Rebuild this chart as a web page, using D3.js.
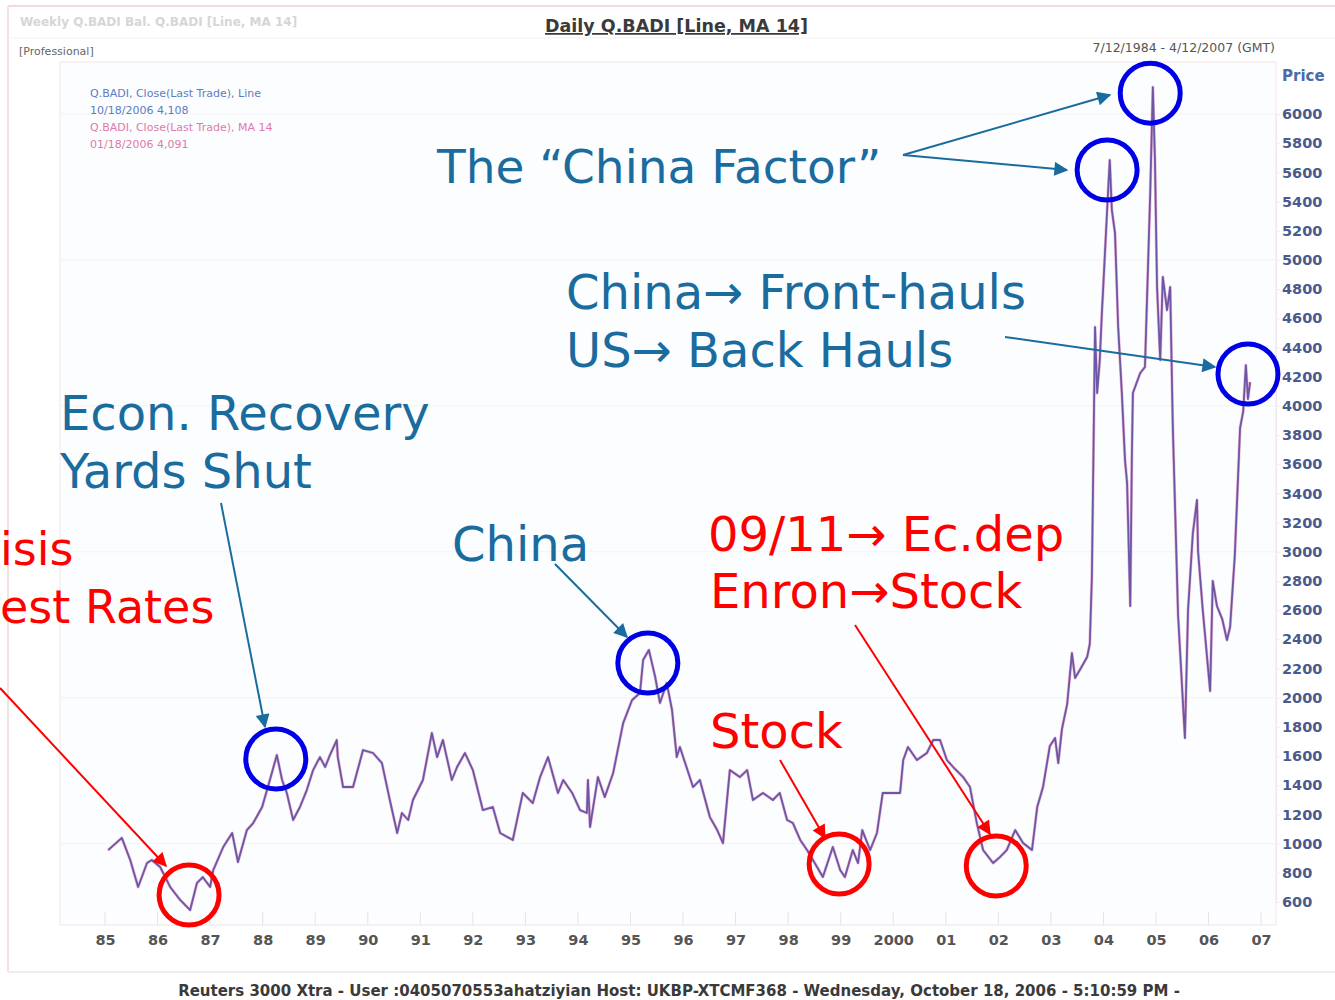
<!DOCTYPE html>
<html>
<head>
<meta charset="utf-8">
<script src="https://cdn.jsdelivr.net/npm/d3@7"></script>
<style>
  html, body { margin: 0; padding: 0; background: #ffffff; }
  svg { display: block; font-family: "DejaVu Sans", Verdana, sans-serif; }
</style>
</head>
<body>
<svg id="chart" width="1335" height="1000"></svg>
<script>
// ---------------- DATA ----------------
const yearLabels = ["85","86","87","88","89","90","91","92","93","94","95","96","97","98","99","2000","01","02","03","04","05","06","07"];
const yearTicks = d3.range(1985, 2008);
const priceTicks = d3.range(600, 6001, 200);

const years = [
 1985.06,1985.32,1985.48,1985.63,1985.80,1985.89,1986.05,1986.24,1986.43,1986.62,
 1986.75,1986.86,1987.00,1987.06,1987.25,1987.42,1987.53,1987.70,1987.82,1987.99,
 1988.10,1988.27,1988.37,1988.46,1988.58,1988.71,1988.84,1988.96,1989.09,1989.19,
 1989.28,1989.41,1989.43,1989.53,1989.72,1989.91,1990.10,1990.27,1990.42,1990.56,
 1990.65,1990.77,1990.86,1991.05,1991.22,1991.32,1991.43,1991.60,1991.70,1991.85,
 1992.00,1992.19,1992.38,1992.52,1992.76,1992.95,1993.14,1993.28,1993.43,1993.62,
 1993.72,1993.89,1994.04,1994.17,1994.19,1994.23,1994.38,1994.51,1994.67,1994.86,
 1995.03,1995.18,1995.24,1995.35,1995.47,1995.56,1995.69,1995.79,1995.88,1995.94,
 1996.19,1996.32,1996.51,1996.65,1996.76,1996.89,1997.08,1997.22,1997.33,1997.52,
 1997.71,1997.84,1997.98,1998.09,1998.23,1998.36,1998.55,1998.66,1998.85,1998.99,
 1999.08,1999.23,1999.33,1999.41,1999.56,1999.69,1999.80,1999.94,2000.13,2000.19,
 2000.28,2000.45,2000.64,2000.76,2000.89,2001.02,2001.14,2001.33,2001.46,2001.59,
 2001.71,2001.90,2002.03,2002.16,2002.32,2002.47,2002.64,2002.74,2002.85,2002.98,
 2003.08,2003.14,2003.21,2003.31,2003.40,2003.46,2003.55,2003.69,2003.74,2003.78,
 2003.84,2003.88,2003.93,2003.97,2003.99,2004.07,2004.12,2004.16,2004.22,2004.28,
 2004.35,2004.41,2004.45,2004.51,2004.54,2004.56,2004.70,2004.79,2004.89,2004.94,
 2004.98,2005.02,2005.08,2005.13,2005.21,2005.27,2005.32,2005.42,2005.55,2005.61,
 2005.70,2005.78,2005.80,2005.89,2006.03,2006.08,2006.16,2006.26,2006.35,2006.41,
 2006.50,2006.60,2006.66,2006.71,2006.75,2006.79
];
const closeValues = [
 956,1039,888,703,867,888,840,703,614,545,
 730,771,703,819,977,1073,874,1093,1141,1251,
 1388,1607,1436,1347,1162,1251,1367,1504,1593,1525,
 1607,1710,1593,1388,1388,1641,1621,1552,1299,1073,
 1210,1162,1299,1436,1758,1593,1710,1436,1525,1621,
 1504,1230,1251,1073,1025,1347,1278,1456,1593,1347,
 1436,1347,1230,1210,1436,1114,1456,1319,1484,1826,
 1984,2032,2258,2327,2142,1964,2101,1916,1593,1662,
 1388,1436,1182,1093,1004,1504,1456,1504,1299,1347,
 1299,1347,1162,1141,1025,956,840,771,977,819,
 771,956,867,1093,956,1073,1347,1347,1347,1573,
 1662,1573,1621,1710,1710,1573,1525,1456,1388,1141,
 956,867,908,956,1093,1004,956,1251,1388,1669,
 1724,1552,1785,1957,2306,2135,2190,2279,2368,2827,
 4540,4088,4314,4636,4773,5342,5684,5342,5184,4540,
 4088,3629,3471,2628,3629,4088,4225,4266,5458,6184,
 5684,4814,4314,4883,4656,4814,3855,2567,1724,2601,
 3122,3355,3005,2601,2046,2800,2628,2539,2395,2484,
 2978,3848,3964,4279,4047,4163
];

// annotation circles in data space [year, price, colour]
const circleYears  = [1986.60, 1988.25, 1995.33, 1998.97, 2001.96, 2004.07, 2004.89, 2006.75];
const circlePrices = [648, 1580, 2238, 860, 847, 5616, 6143, 4218];
const circleKinds  = ["red","blue","blue","red","red","blue","blue","blue"];

const legendLines = [
  "Q.BADI, Close(Last Trade), Line",
  "10/18/2006 4,108",
  "Q.BADI, Close(Last Trade), MA 14",
  "01/18/2006 4,091"
];

// ---------------- DRAWING ----------------
const svg = d3.select("#chart");
const TEAL = "#1a6c9e", RED = "#ff0000", BLUE = "#0000e6";

const x = d3.scaleLinear().domain([1985, 2007]).range([105, 1261.1]);
const y = d3.scaleLinear().domain([600, 6000]).range([902, 114]);

// background panels / frame
svg.append("rect").attr("x", 0).attr("y", 0).attr("width", 1335).attr("height", 1000).attr("fill", "#ffffff");
svg.append("rect").attr("x", 60).attr("y", 62).attr("width", 1216).attr("height", 863)
  .attr("fill", "#fcfdff").attr("stroke", "#f2e6e6").attr("stroke-width", 1);
svg.append("line").attr("x1", 8).attr("x2", 1335).attr("y1", 6).attr("y2", 6).attr("stroke", "#f3dada").attr("stroke-width", 2);
svg.append("line").attr("x1", 8).attr("x2", 8).attr("y1", 6).attr("y2", 972).attr("stroke", "#f3e2e2").attr("stroke-width", 2);
svg.append("line").attr("x1", 8).attr("x2", 1335).attr("y1", 972).attr("y2", 972).attr("stroke", "#eeeeee").attr("stroke-width", 2);
svg.append("line").attr("x1", 8).attr("x2", 1335).attr("y1", 38).attr("y2", 38).attr("stroke", "#f6f0f0").attr("stroke-width", 1);

// faint gridlines
const grid = svg.append("g");
grid.selectAll("line.h").data(priceTicks.filter(d => d % 1000 === 0)).join("line")
  .attr("x1", 60).attr("x2", 1276).attr("y1", d => y(d)).attr("y2", d => y(d))
  .attr("stroke", "#f3f3f6").attr("stroke-width", 1);
grid.selectAll("line.v").data(yearTicks).join("line")
  .attr("x1", d => x(d)).attr("x2", d => x(d)).attr("y1", 912).attr("y2", 925)
  .attr("stroke", "#e4e4e4").attr("stroke-width", 1);

// y axis (right)
const yAxis = d3.axisRight(y).tickValues(priceTicks).tickFormat(d3.format("d")).tickSize(4).tickPadding(2);
const yg = svg.append("g").attr("transform", "translate(1276,0)").call(yAxis);
yg.select(".domain").attr("stroke", "#f0e8e8");
yg.selectAll(".tick line").attr("stroke", "#eeeeee");
yg.selectAll(".tick text").attr("fill", "#4a5a8e").attr("font-size", 14.5).attr("font-weight", "bold")
  .attr("font-family", "DejaVu Sans");
svg.append("text").attr("x", 1282).attr("y", 81).text("Price")
  .attr("fill", "#4a6aa8").attr("font-size", 15).attr("font-weight", "bold");

// x axis
const xAxis = d3.axisBottom(x).tickValues(yearTicks).tickFormat((d, i) => yearLabels[i]).tickSize(0).tickPadding(10);
const xg = svg.append("g").attr("transform", "translate(0,925)").call(xAxis);
xg.select(".domain").attr("stroke", "#f0f0f0");
xg.selectAll(".tick text").attr("fill", "#555555").attr("font-size", 14.5).attr("font-weight", "bold")
  .attr("font-family", "DejaVu Sans");

// price lines (close and MA drawn from the same read series)
const pts = years.map((yr, i) => [yr, closeValues[i]]);
const line = d3.line().x(d => x(d[0])).y(d => y(d[1]));
svg.append("path").datum(pts).attr("d", line).attr("fill", "none")
  .attr("stroke", "#e07ab8").attr("stroke-width", 3).attr("stroke-opacity", 0.55).attr("stroke-linejoin", "round");
svg.append("path").datum(pts).attr("d", line).attr("fill", "none")
  .attr("stroke", "#6a58a4").attr("stroke-width", 1.8).attr("stroke-linejoin", "round");

// header texts
svg.append("text").attr("x", 20).attr("y", 26).text("Weekly Q.BADI  Bal.     Q.BADI [Line, MA 14]")
  .attr("fill", "#d6d6d6").attr("font-size", 12).attr("font-weight", "bold");
svg.append("text").attr("x", 545).attr("y", 32).text("Daily Q.BADI [Line, MA 14]")
  .attr("fill", "#3a3a3a").attr("font-size", 17.5).attr("font-weight", "bold")
  .attr("text-decoration", "underline");
svg.append("text").attr("x", 19).attr("y", 55).text("[Professional]")
  .attr("fill", "#666666").attr("font-size", 11);
svg.append("text").attr("x", 1275).attr("y", 52).attr("text-anchor", "end").text("7/12/1984 - 4/12/2007 (GMT)")
  .attr("fill", "#555555").attr("font-size", 12.5);

// legend
const legendColors = ["#5b7cc4", "#5b7cc4", "#e07aa8", "#e07aa8"];
svg.append("g").selectAll("text").data(legendLines).join("text")
  .attr("x", 90).attr("y", (d, i) => 97 + i * 17)
  .attr("fill", (d, i) => legendColors[i]).attr("font-size", 11).text(d => d);

// footer
svg.append("text").attr("x", 679).attr("y", 996).attr("text-anchor", "middle")
  .text("Reuters 3000 Xtra - User :0405070553ahatziyian Host: UKBP-XTCMF368 - Wednesday, October 18, 2006 - 5:10:59 PM -")
  .attr("fill", "#3a3a3a").attr("font-size", 15).attr("font-weight", "bold");

// arrow markers
const defs = svg.append("defs");
[["tealHead", TEAL], ["redHead", RED]].forEach(([id, c]) => {
  defs.append("marker").attr("id", id).attr("viewBox", "0 0 10 10").attr("refX", 9).attr("refY", 5)
    .attr("markerWidth", 18).attr("markerHeight", 14).attr("markerUnits", "userSpaceOnUse").attr("orient", "auto")
    .append("path").attr("d", "M0,0 L10,5 L0,10 Z").attr("fill", c);
});

// annotation circles
svg.append("g").selectAll("circle").data(circleYears).join("circle")
  .attr("cx", d => x(d)).attr("cy", (d, i) => y(circlePrices[i])).attr("r", 30)
  .attr("fill", "none").attr("stroke", (d, i) => circleKinds[i] === "red" ? RED : BLUE).attr("stroke-width", 5);

// annotation arrows
const arrows = [
  [903, 155, 1110, 95, "teal"],
  [903, 155, 1067, 170, "teal"],
  [1005, 337, 1215, 367, "teal"],
  [221, 503, 265, 727, "teal"],
  [555, 564, 627, 637, "teal"],
  [0, 688, 166, 866, "red"],
  [780, 760, 825, 838, "red"],
  [855, 625, 990, 834, "red"]
];
svg.append("g").selectAll("line").data(arrows).join("line")
  .attr("x1", d => d[0]).attr("y1", d => d[1]).attr("x2", d => d[2]).attr("y2", d => d[3])
  .attr("stroke", d => d[4] === "teal" ? TEAL : RED).attr("stroke-width", 2)
  .attr("marker-end", d => d[4] === "teal" ? "url(#tealHead)" : "url(#redHead)");

// annotation texts
const notes = [
  ["The \u201CChina Factor\u201D", 437, 183, "start", TEAL, 47],
  ["China\u2192 Front-hauls", 566, 309, "start", TEAL, 48],
  ["US\u2192 Back Hauls", 566, 367, "start", TEAL, 48],
  ["Econ. Recovery", 60, 430, "start", TEAL, 48],
  ["Yards Shut", 60, 488, "start", TEAL, 48],
  ["China", 452, 561, "start", TEAL, 48],
  ["isis", 0, 565, "start", RED, 46],
  ["est Rates", 0, 623, "start", RED, 46],
  ["09/11\u2192 Ec.dep", 708, 551, "start", RED, 48],
  ["Enron\u2192Stock", 710, 608, "start", RED, 48],
  ["Stock", 710, 748, "start", RED, 48]
];
svg.append("g").selectAll("text").data(notes).join("text")
  .attr("x", d => d[1]).attr("y", d => d[2]).attr("text-anchor", d => d[3])
  .attr("fill", d => d[4]).attr("font-size", d => d[5]).text(d => d[0]);
</script>
</body>
</html>
